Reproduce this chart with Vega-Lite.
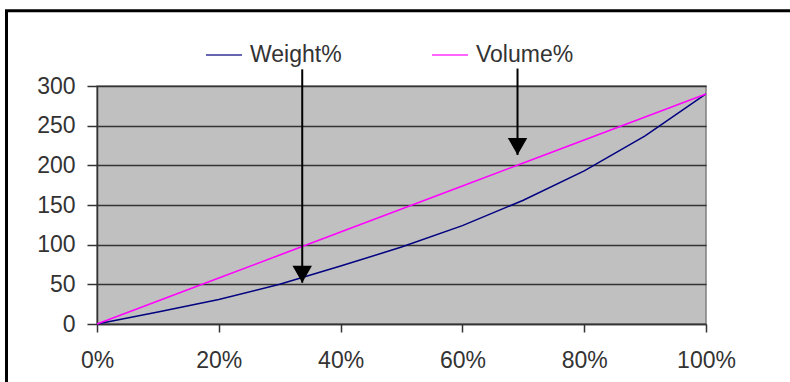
{
  "$schema": "https://vega.github.io/schema/vega-lite/v6.json",
  "width": 609,
  "height": 238,
  "autosize": {"type": "none"},
  "padding": {"left": 97, "top": 86, "right": 84, "bottom": 58},
  "background": "white",
  "config": {
    "font": "Liberation Sans",
    "view": {"fill": "#C0C0C0", "stroke": "#808080", "strokeWidth": 1.5}
  },
  "datasets": {
    "series": [
      {"pct": 0.0, "value": 0, "series": "Weight%"},
      {"pct": 0.1, "value": 15, "series": "Weight%"},
      {"pct": 0.2, "value": 31, "series": "Weight%"},
      {"pct": 0.3, "value": 50, "series": "Weight%"},
      {"pct": 0.4, "value": 73, "series": "Weight%"},
      {"pct": 0.5, "value": 97, "series": "Weight%"},
      {"pct": 0.6, "value": 124, "series": "Weight%"},
      {"pct": 0.7, "value": 156, "series": "Weight%"},
      {"pct": 0.8, "value": 193, "series": "Weight%"},
      {"pct": 0.9, "value": 237, "series": "Weight%"},
      {"pct": 1.0, "value": 290, "series": "Weight%"},
      {"pct": 0.0, "value": 0, "series": "Volume%"},
      {"pct": 0.1, "value": 29, "series": "Volume%"},
      {"pct": 0.2, "value": 58, "series": "Volume%"},
      {"pct": 0.3, "value": 87, "series": "Volume%"},
      {"pct": 0.4, "value": 116, "series": "Volume%"},
      {"pct": 0.5, "value": 145, "series": "Volume%"},
      {"pct": 0.6, "value": 174, "series": "Volume%"},
      {"pct": 0.7, "value": 203, "series": "Volume%"},
      {"pct": 0.8, "value": 232, "series": "Volume%"},
      {"pct": 0.9, "value": 261, "series": "Volume%"},
      {"pct": 1.0, "value": 290, "series": "Volume%"}
    ],
    "arrows": [
      {"pct": 0.337, "value": 52, "top": 321},
      {"pct": 0.6905, "value": 213, "top": 322}
    ]
  },
  "layer": [
    {
      "data": {"name": "series"},
      "mark": {"type": "line", "strokeWidth": 1.5},
      "encoding": {
        "x": {
          "field": "pct", "type": "quantitative", "title": null,
          "scale": {"domain": [0, 1], "nice": false},
          "axis": {
            "values": [0, 0.2, 0.4, 0.6, 0.8, 1],
            "tickCount": 20,
            "format": ".0%",
            "grid": false,
            "tickSize": 8,
            "tickColor": "#333333",
            "tickWidth": 1.5,
            "domainColor": "#333333",
            "domainWidth": 1.5,
            "labelPadding": 17,
            "labelFontSize": 23,
            "labelColor": "#333333",
            "labelFlush": false,
            "labelOverlap": false
          }
        },
        "y": {
          "field": "value", "type": "quantitative", "title": null,
          "scale": {"domain": [0, 300], "nice": false},
          "axis": {
            "values": [0, 50, 100, 150, 200, 250, 300],
            "tickCount": 20,
            "grid": true,
            "gridColor": "#333333",
            "gridWidth": 1.5,
            "tickSize": 10,
            "tickColor": "#333333",
            "tickWidth": 1.5,
            "domainColor": "#333333",
            "domainWidth": 1.5,
            "labelPadding": 12,
            "labelFontSize": 23,
            "labelColor": "#333333",
            "labelFlush": false,
            "labelOverlap": false
          }
        },
        "color": {
          "field": "series", "type": "nominal",
          "scale": {"domain": ["Weight%", "Volume%"], "range": ["#000080", "#FF00FF"]},
          "legend": {
            "orient": "none",
            "legendX": 108,
            "legendY": -50,
            "direction": "horizontal",
            "title": null,
            "symbolType": "stroke",
            "symbolSize": 1296,
            "symbolStrokeWidth": 2,
            "symbolOpacity": 0.6,
            "labelFontSize": 23,
            "labelColor": "#333333",
            "labelOffset": 7,
            "columnPadding": 86
          }
        }
      }
    },
    {
      "data": {"name": "arrows"},
      "mark": {"type": "rule", "color": "black", "strokeWidth": 2},
      "encoding": {
        "x": {"field": "pct", "type": "quantitative"},
        "y": {"field": "value", "type": "quantitative"},
        "y2": {"field": "top"}
      }
    },
    {
      "data": {"name": "arrows"},
      "mark": {"type": "point", "shape": "M-1,-1.75L1,-1.75L0,0Z", "filled": true, "color": "black", "opacity": 1, "size": 380},
      "encoding": {
        "x": {"field": "pct", "type": "quantitative"},
        "y": {"field": "value", "type": "quantitative"}
      }
    },
    {
      "data": {"values": [{}]},
      "mark": {"type": "rect", "fillOpacity": 0, "stroke": "black", "strokeWidth": 3},
      "encoding": {
        "x": {"datum": -0.1486, "type": "quantitative"},
        "x2": {"datum": 2},
        "y": {"datum": 395, "type": "quantitative"},
        "y2": {"datum": -200}
      }
    }
  ]
}
